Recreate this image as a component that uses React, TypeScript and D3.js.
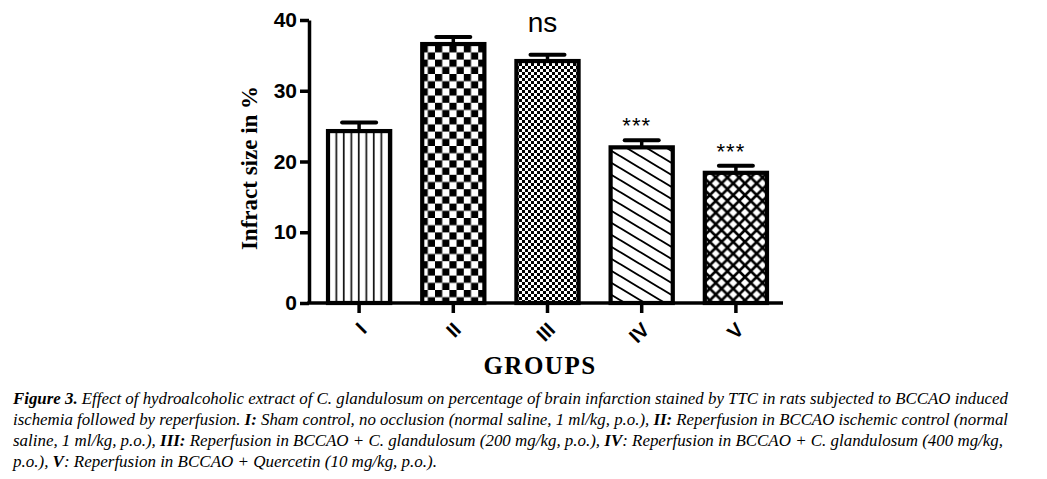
import React, { useEffect, useRef } from 'react';
import * as d3 from 'd3';

const groups = ['I', 'II', 'III', 'IV', 'V'];
const means = [24.3, 36.6, 34.2, 22.0, 18.4];
const sems = [1.2, 1.0, 0.9, 1.0, 1.0];
const marks = ['', '', 'ns', '***', '***'];
const patterns = ['pVert', 'pCheckBig', 'pCheckSmall', 'pDiag', 'pLattice'];
const yTicks = [0, 10, 20, 30, 40];

const caption = [
  [['Figure 3.', true], [' Effect of hydroalcoholic extract of C. glandulosum on percentage of brain infarction stained by TTC in rats subjected to BCCAO induced', false]],
  [['ischemia followed by reperfusion. ', false], ['I:', true], [' Sham control, no occlusion (normal saline, 1 ml/kg, p.o.), ', false], ['II:', true], [' Reperfusion in BCCAO ischemic control (normal', false]],
  [['saline, 1 ml/kg, p.o.), ', false], ['III:', true], [' Reperfusion in BCCAO + C. glandulosum (200 mg/kg, p.o.), ', false], ['IV', true], [': Reperfusion in BCCAO + C. glandulosum (400 mg/kg,', false]],
  [['p.o.), ', false], ['V', true], [': Reperfusion in BCCAO + Quercetin (10 mg/kg, p.o.).', false]],
];
const captionWidths = [995, 995, 990, 424];

const App = () => {
  const ref = useRef(null);

  useEffect(() => {
    const svg = d3.select(ref.current);
    svg.selectAll('*').remove();

    const defs = svg.append('defs');

    // vertical lines
    const p1 = defs.append('pattern').attr('id', 'pVert').attr('patternUnits', 'userSpaceOnUse')
      .attr('width', 7.5).attr('height', 10);
    p1.append('rect').attr('width', 7.5).attr('height', 10).attr('fill', '#fff');
    p1.append('rect').attr('x', 5.5).attr('width', 1.6).attr('height', 10).attr('fill', '#000');

    // big checkerboard
    const p2 = defs.append('pattern').attr('id', 'pCheckBig').attr('patternUnits', 'userSpaceOnUse')
      .attr('width', 14.4).attr('height', 14.4).attr('x', 3).attr('y', 2);
    p2.append('rect').attr('width', 14.4).attr('height', 14.4).attr('fill', '#fff');
    p2.append('rect').attr('width', 7.2).attr('height', 7.2).attr('fill', '#000');
    p2.append('rect').attr('x', 7.2).attr('y', 7.2).attr('width', 7.2).attr('height', 7.2).attr('fill', '#000');

    // small checkerboard
    const p3 = defs.append('pattern').attr('id', 'pCheckSmall').attr('patternUnits', 'userSpaceOnUse')
      .attr('width', 6).attr('height', 6);
    p3.append('rect').attr('width', 6).attr('height', 6).attr('fill', '#fff');
    p3.append('rect').attr('width', 3).attr('height', 3).attr('fill', '#000');
    p3.append('rect').attr('x', 3).attr('y', 3).attr('width', 3).attr('height', 3).attr('fill', '#000');

    // diagonal lines
    const p4 = defs.append('pattern').attr('id', 'pDiag').attr('patternUnits', 'userSpaceOnUse')
      .attr('width', 20).attr('height', 12);
    p4.append('rect').attr('width', 20).attr('height', 12).attr('fill', '#fff');
    p4.append('path')
      .attr('d', 'M-2,-1.2L22,13.2M-2,10.8L2,13.2M18,-1.2L22,1.2')
      .attr('stroke', '#000').attr('stroke-width', 1.9);

    // lattice
    const p5 = defs.append('pattern').attr('id', 'pLattice').attr('patternUnits', 'userSpaceOnUse')
      .attr('width', 11.7).attr('height', 11.7).attr('x', 2).attr('y', 2);
    p5.append('rect').attr('width', 11.7).attr('height', 11.7).attr('fill', '#fff');
    p5.append('path')
      .attr('d', 'M0,0L11.7,11.7M11.7,0L0,11.7')
      .attr('stroke', '#000').attr('stroke-width', 2.6);

    const x = d3.scaleBand().domain(groups).range([312, 783]).paddingInner(0.34).paddingOuter(0.17);
    const y = d3.scaleLinear().domain([0, 40]).range([303, 20]);

    // y axis
    const yAxis = svg.append('g').attr('transform', 'translate(309,0)')
      .call(d3.axisLeft(y).tickValues(yTicks).tickSize(9).tickSizeOuter(0).tickPadding(3));
    yAxis.select('.domain').attr('stroke-width', 3.5);
    yAxis.selectAll('.tick line').attr('stroke-width', 3.5);
    yAxis.selectAll('.tick text')
      .attr('font-family', 'Liberation Sans, Arial, sans-serif')
      .attr('font-weight', 'bold').attr('font-size', 21).attr('fill', '#000');

    // x axis
    const xAxis = svg.append('g').attr('transform', 'translate(0,303)')
      .call(d3.axisBottom(x).tickSize(10).tickSizeOuter(0));
    xAxis.select('.domain').remove();
    xAxis.selectAll('.tick line').attr('stroke-width', 3.5);
    xAxis.selectAll('.tick text')
      .attr('x', 0).attr('y', 0).attr('dy', '0.35em')
      .attr('transform', 'translate(4,23) rotate(-45)')
      .attr('text-anchor', 'end')
      .attr('font-family', 'Liberation Sans, Arial, sans-serif')
      .attr('font-weight', 'bold').attr('font-size', 20).attr('fill', '#000');
    svg.append('line').attr('x1', 307.3).attr('x2', 783).attr('y1', y(0)).attr('y2', y(0))
      .attr('stroke', '#000').attr('stroke-width', 3.5);

    const data = groups.map((g, i) => ({ g, m: means[i], s: sems[i], mark: marks[i], pat: patterns[i] }));

    // error bars
    const err = svg.append('g').selectAll('g').data(data).enter().append('g');
    err.append('line')
      .attr('x1', (d) => x(d.g) + x.bandwidth() / 2).attr('x2', (d) => x(d.g) + x.bandwidth() / 2)
      .attr('y1', (d) => y(d.m)).attr('y2', (d) => y(d.m + d.s))
      .attr('stroke', '#000').attr('stroke-width', 3.5);
    err.append('line')
      .attr('x1', (d) => x(d.g) + x.bandwidth() / 2 - 17).attr('x2', (d) => x(d.g) + x.bandwidth() / 2 + 17)
      .attr('y1', (d) => y(d.m + d.s)).attr('y2', (d) => y(d.m + d.s))
      .attr('stroke', '#000').attr('stroke-width', 4).attr('stroke-linecap', 'round');

    // bars
    svg.append('g').selectAll('rect').data(data).enter().append('rect')
      .attr('x', (d) => x(d.g))
      .attr('y', (d) => y(d.m))
      .attr('width', x.bandwidth())
      .attr('height', (d) => y(0) - y(d.m))
      .attr('fill', (d) => `url(#${d.pat})`)
      .attr('stroke', '#000').attr('stroke-width', 4.2);

    // significance marks
    svg.append('g').selectAll('text').data(data.filter((d) => d.mark)).enter().append('text')
      .attr('x', (d) => x(d.g) + x.bandwidth() / 2 - 5)
      .attr('y', (d) => y(d.m + d.s) - (d.mark === 'ns' ? 23 : 7))
      .attr('text-anchor', 'middle')
      .attr('font-family', 'Liberation Sans, Arial, sans-serif')
      .attr('font-size', (d) => (d.mark === 'ns' ? 28 : 22))
      .attr('letter-spacing', (d) => (d.mark === 'ns' ? 0 : 1))
      .attr('fill', '#000')
      .text((d) => d.mark);

    // axis titles
    svg.append('text')
      .attr('transform', 'translate(257,168) rotate(-90)')
      .attr('text-anchor', 'middle')
      .attr('font-family', 'Liberation Serif, Times New Roman, serif')
      .attr('font-weight', 'bold').attr('font-size', 23)
      .text('Infract size in %');
    svg.append('text')
      .attr('x', 540).attr('y', 374)
      .attr('text-anchor', 'middle')
      .attr('font-family', 'Liberation Serif, Times New Roman, serif')
      .attr('font-weight', 'bold').attr('font-size', 25).attr('letter-spacing', 1.5)
      .text('GROUPS');

    // caption
    caption.forEach((line, i) => {
      const t = svg.append('text')
        .attr('x', 13).attr('y', 404 + i * 21)
        .attr('font-family', 'Liberation Serif, Times New Roman, serif')
        .attr('font-style', 'italic').attr('font-size', 16)
        .attr('textLength', captionWidths[i]).attr('lengthAdjust', 'spacingAndGlyphs');
      line.forEach(([s, b]) => {
        t.append('tspan').attr('font-weight', b ? 'bold' : 'normal').text(s);
      });
    });

    return () => {
      svg.selectAll('*').remove();
    };
  }, []);

  return (
    <svg
      ref={ref}
      width={1047}
      height={479}
      style={{ position: 'absolute', left: 0, top: 0, background: '#fff' }}
    />
  );
};

export default App;
